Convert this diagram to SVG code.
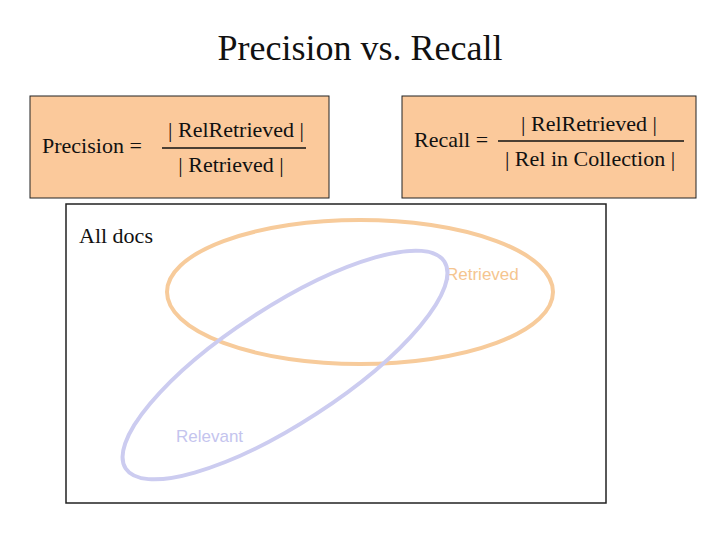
<svg xmlns="http://www.w3.org/2000/svg" width="720" height="540" viewBox="0 0 720 540">
<style>
.box{fill:#FBC99B;stroke:#222;stroke-width:1}
.f{font-family:"Liberation Serif",serif;font-size:22px;fill:#111}
.s{font-family:"Liberation Sans",sans-serif;font-size:17px}
</style>
<rect width="720" height="540" fill="#fff"/>
<text x="360" y="60" text-anchor="middle" font-family="Liberation Serif,serif" font-size="36" fill="#111">Precision vs. Recall</text>
<g id="precision">
<rect class="box" x="30" y="96" width="299" height="102"/>
<text class="f" x="42" y="153">Precision =</text>
<text class="f" x="236" y="137" text-anchor="middle">| RelRetrieved |</text>
<line x1="162" y1="148" x2="306" y2="148" stroke="#111" stroke-width="1.3"/>
<text class="f" x="231" y="172" text-anchor="middle">| Retrieved |</text>
</g>
<g id="recall">
<rect class="box" x="402" y="96" width="294" height="102"/>
<text class="f" x="414" y="147">Recall =</text>
<text class="f" x="589" y="131" text-anchor="middle">| RelRetrieved |</text>
<line x1="498" y1="141" x2="684" y2="141" stroke="#111" stroke-width="1.3"/>
<text class="f" x="590" y="166" text-anchor="middle">| Rel in Collection |</text>
</g>
<g id="alldocs">
<rect x="66" y="204" width="540" height="299" fill="#fff" stroke="#222" stroke-width="1.5"/>
<text x="79" y="243" font-family="Liberation Serif,serif" font-size="22" fill="#111">All docs</text>
</g>
<g id="retrieved">
<ellipse cx="360" cy="292" rx="193" ry="72" fill="none" stroke="#F7CB9B" stroke-width="4"/>
<text class="s" x="446" y="280" fill="#F5C58F">Retrieved</text>
</g>
<g id="relevant">
<ellipse cx="285" cy="365" rx="190" ry="58" transform="rotate(-33 285 365)" fill="none" stroke="#CCCCF0" stroke-width="4"/>
<text class="s" x="176" y="442" fill="#C4C4EE">Relevant</text>
</g>
<g id="connectors"/>
</svg>
